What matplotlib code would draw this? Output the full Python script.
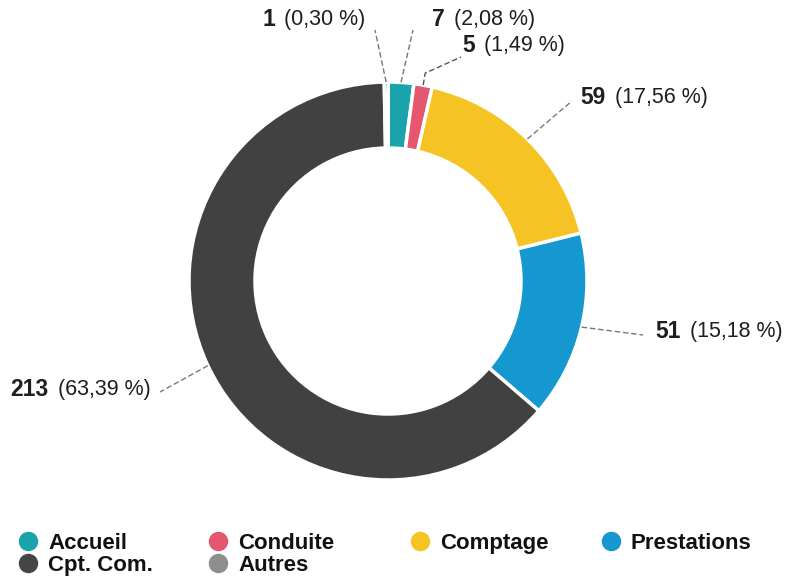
import numpy as np
import matplotlib.pyplot as plt

plt.rcParams['font.family'] = ['Liberation Sans', 'DejaVu Sans']

# donnees
categories = ['Accueil', 'Conduite', 'Comptage', 'Prestations', 'Cpt. Com.', 'Autres']
valeurs = [7, 5, 59, 51, 213, 1]
pourcent = ['2,08 %', '1,49 %', '17,56 %', '15,18 %', '63,39 %', '0,30 %']
couleurs = ['#1aa3ab', '#e5566f', '#f6c324', '#1597cf', '#414141', '#262626']
couleurs_legende = ['#1aa3ab', '#e5566f', '#f6c324', '#1597cf', '#454545', '#8e8e8e']

# mise en page des etiquettes (pixels) : coin gauche du texte, bout du trait
etiq_pos = [(432, 19), (462, 46), (580, 98), (655, 331), (10, 389), (262, 19)]
trait_fin = [(413, 30), (461, 57), (572, 101), (643, 335), (160, 392), (375, 30)]

W, H = 787, 578
fig = plt.figure(figsize=(W / 100, H / 100), dpi=100)
ax = fig.add_axes([0, 0, 1, 1])

cx, cy, R, largeur = 388, 281, 199, 66
# axe y inverse -> counterclock=True donne le sens horaire a l'ecran
wedges, _ = ax.pie(valeurs, colors=couleurs, startangle=-90, counterclock=True,
                   center=(cx, cy), radius=R, frame=True,
                   wedgeprops=dict(width=largeur, edgecolor='white', linewidth=2.5))
ax.set_xlim(0, W)
ax.set_ylim(H, 0)
ax.set_aspect('equal')
ax.axis('off')

for i, w in enumerate(wedges):
    ang = np.deg2rad((w.theta1 + w.theta2) / 2)
    px = cx + R * np.cos(ang)
    py = cy + R * np.sin(ang)
    ex, ey = trait_fin[i]
    if i == 1:
        # trait coude pour "Conduite"
        ax.plot([px, px + 2, ex], [py, py - 12, ey], ls=(0, (4, 2)), color='#555555', lw=1)
    else:
        ax.plot([px, ex], [py, ey], ls=(0, (4, 2)), color='#777777', lw=1)
    tx, ty = etiq_pos[i]
    t = ax.text(tx, ty, str(valeurs[i]), fontsize=16.5, fontweight='bold',
                color='#1e1e1e', ha='left', va='center')
    ax.annotate('(' + pourcent[i] + ')', xy=(1, 0.5), xycoords=t,
                xytext=(7, 0), textcoords='offset points',
                fontsize=15.5, color='#1e1e1e', va='center', ha='left')

# legende en grille fixe (4 colonnes)
leg_x = [28, 218, 420, 611]
leg_y = [541, 563]
for k, nom in enumerate(categories):
    col, lig = k % 4, k // 4
    x, y = leg_x[col], leg_y[lig]
    ax.plot(x, y, marker='o', markersize=13, color=couleurs_legende[k], ls='none')
    ax.text(x + 20, y, nom, fontsize=16, fontweight='bold', color='#111111',
            ha='left', va='center_baseline')

fig.savefig('out.png', dpi=100)
